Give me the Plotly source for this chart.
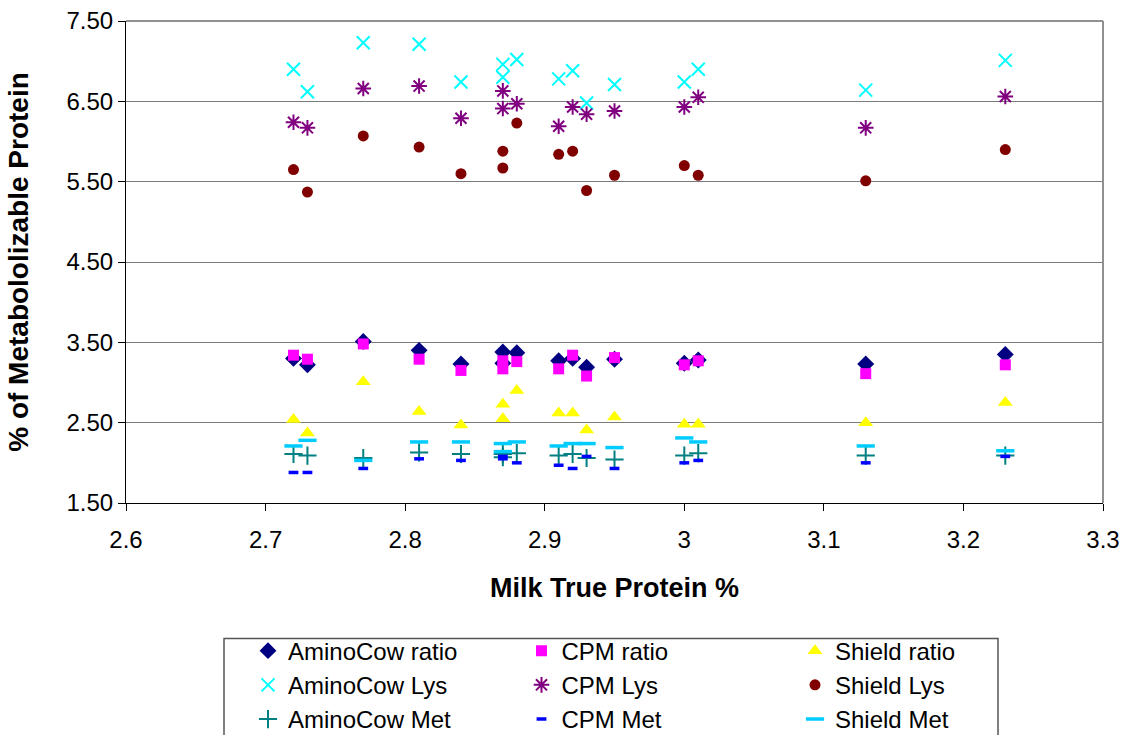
import plotly.graph_objects as go

# Milk true protein (%) for each diet observation
milk_true_protein = [2.72, 2.73, 2.77, 2.81, 2.84, 2.87, 2.87, 2.88,
                     2.91, 2.92, 2.93, 2.95, 3.00, 3.01, 3.13, 3.23]

# Lys:Met ratios predicted by each model
aminocow_ratio = [3.30, 3.22, 3.51, 3.40, 3.23, 3.38, 3.24, 3.37,
                  3.27, 3.30, 3.19, 3.29, 3.24, 3.28, 3.23, 3.35]
cpm_ratio = [3.34, 3.29, 3.48, 3.29, 3.15, 3.27, 3.17, 3.26,
             3.17, 3.34, 3.08, 3.31, 3.22, 3.27, 3.11, 3.22]
shield_ratio = [2.54, 2.37, 3.01, 2.64, 2.47, 2.73, 2.55, 2.90,
                2.62, 2.62, 2.41, 2.57, 2.48, 2.48, 2.50, 2.75]

# Lys as % of metabolizable protein
aminocow_lys = [6.90, 6.62, 7.23, 7.21, 6.74, 6.96, 6.80, 7.02,
                6.78, 6.88, 6.48, 6.71, 6.74, 6.90, 6.64, 7.01]
cpm_lys = [6.24, 6.17, 6.66, 6.69, 6.29, 6.63, 6.41, 6.47,
           6.19, 6.43, 6.34, 6.38, 6.43, 6.55, 6.17, 6.56]
shield_lys = [5.65, 5.37, 6.07, 5.93, 5.60, 5.88, 5.67, 6.23,
              5.84, 5.88, 5.39, 5.58, 5.70, 5.58, 5.51, 5.90]

# Met as % of metabolizable protein
aminocow_met = [2.11, 2.09, 2.06, 2.13, 2.11, 2.11, 2.07, 2.12,
                2.09, 2.11, 2.06, 2.04, 2.09, 2.12, 2.09, 2.09]
cpm_met = [1.88, 1.88, 1.93, 2.05, 2.03, 2.05, 2.08, 2.00,
           1.97, 1.93, 2.08, 1.93, 2.00, 2.03, 2.00, 2.08]
shield_met = [2.21, 2.28, 2.03, 2.26, 2.26, 2.24, 2.14, 2.26,
              2.21, 2.24, 2.24, 2.19, 2.31, 2.26, 2.21, 2.15]

y_ticks = [1.5, 2.5, 3.5, 4.5, 5.5, 6.5, 7.5]
x_ticks = [2.6, 2.7, 2.8, 2.9, 3.0, 3.1, 3.2, 3.3]

FONT = "Liberation Sans, Arial, sans-serif"

# (name, values, symbol, colour, size, line width) in legend order
series = [
    ("AminoCow ratio", aminocow_ratio, "diamond", "#000080", 13, 0),
    ("CPM ratio", cpm_ratio, "square", "#FF00FF", 11, 0),
    ("Shield ratio", shield_ratio, "triangle-up", "#FFFF00", 13, 0),
    ("AminoCow Lys", aminocow_lys, "x-thin-open", "#00FFFF", 13, 2),
    ("CPM Lys", cpm_lys, "asterisk-open", "#800080", 13, 2),
    ("Shield Lys", shield_lys, "circle", "#800000", 11, 0),
    ("AminoCow Met", aminocow_met, "cross-thin-open", "#008080", 13, 2),
    ("CPM Met", cpm_met, "line-ew-open", "#0000FF", 7, 3.5),
    ("Shield Met", shield_met, "line-ew-open", "#00CCFF", 13, 3.5),
]

fig = go.Figure()
for name, vals, symbol, color, size, lw in series:
    marker = dict(symbol=symbol, color=color, size=size)
    if lw:
        marker["line"] = dict(color=color, width=lw)
    else:
        marker["line"] = dict(width=0)
    fig.add_trace(go.Scatter(
        x=milk_true_protein, y=vals, mode="markers", name=name,
        marker=marker, cliponaxis=False,
    ))

# plot area spans 126..1103 px horizontally and 21..503 px vertically
PX_W, PX_H = 977.0, 482.6


def px_x(px):
    return (px - 126) / PX_W


def px_y(py):
    return (503.3 - py) / PX_H


fig.update_layout(
    width=1133, height=735,
    margin=dict(l=126, r=30, t=21, b=232, autoexpand=False),
    paper_bgcolor="white", plot_bgcolor="white",
    font=dict(family=FONT, size=24, color="black"),
    showlegend=True,
    legend=dict(
        orientation="h", x=px_x(248), y=px_y(629), xanchor="left", yanchor="top",
        entrywidth=228.5, borderwidth=0, bgcolor="rgba(0,0,0,0)",
        font=dict(family=FONT, size=24, color="black"),
        traceorder="normal", tracegroupgap=0,
    ),
    xaxis=dict(
        range=[2.6, 3.3], tickvals=x_ticks, ticktext=[f"{v:g}" for v in x_ticks],
        showgrid=False, zeroline=False, showline=True, linecolor="black",
        linewidth=1, ticks="outside", ticklen=7, tickcolor="black",
        tickfont=dict(size=24), ticklabelstandoff=8,
        title=dict(text="<b>Milk True Protein %</b>", font=dict(size=27), standoff=26),
    ),
    yaxis=dict(
        range=[1.5, 7.5], tickvals=y_ticks, ticktext=[f"{v:.2f}" for v in y_ticks],
        showgrid=True, gridcolor="#7a7a7a", gridwidth=1, zeroline=False,
        showline=True, linecolor="black", linewidth=1,
        ticks="outside", ticklen=7, tickcolor="black",
        tickfont=dict(size=24),
        title=dict(text="<b>% of Metabololizable Protein</b>", font=dict(size=28), standoff=29),
    ),
    shapes=[
        dict(type="line", xref="paper", yref="paper", x0=0, x1=1, y0=1, y1=1,
             line=dict(color="#909090", width=2)),
        dict(type="line", xref="paper", yref="paper", x0=1, x1=1, y0=0, y1=1,
             line=dict(color="#909090", width=2)),
        # legend frame, running off the bottom edge of the page
        dict(type="rect", xref="paper", yref="paper",
             x0=px_x(224), x1=px_x(998), y0=px_y(639), y1=px_y(760),
             line=dict(color="#555555", width=1.5), fillcolor="rgba(0,0,0,0)"),
    ],
)

fig.write_html("out.html")
